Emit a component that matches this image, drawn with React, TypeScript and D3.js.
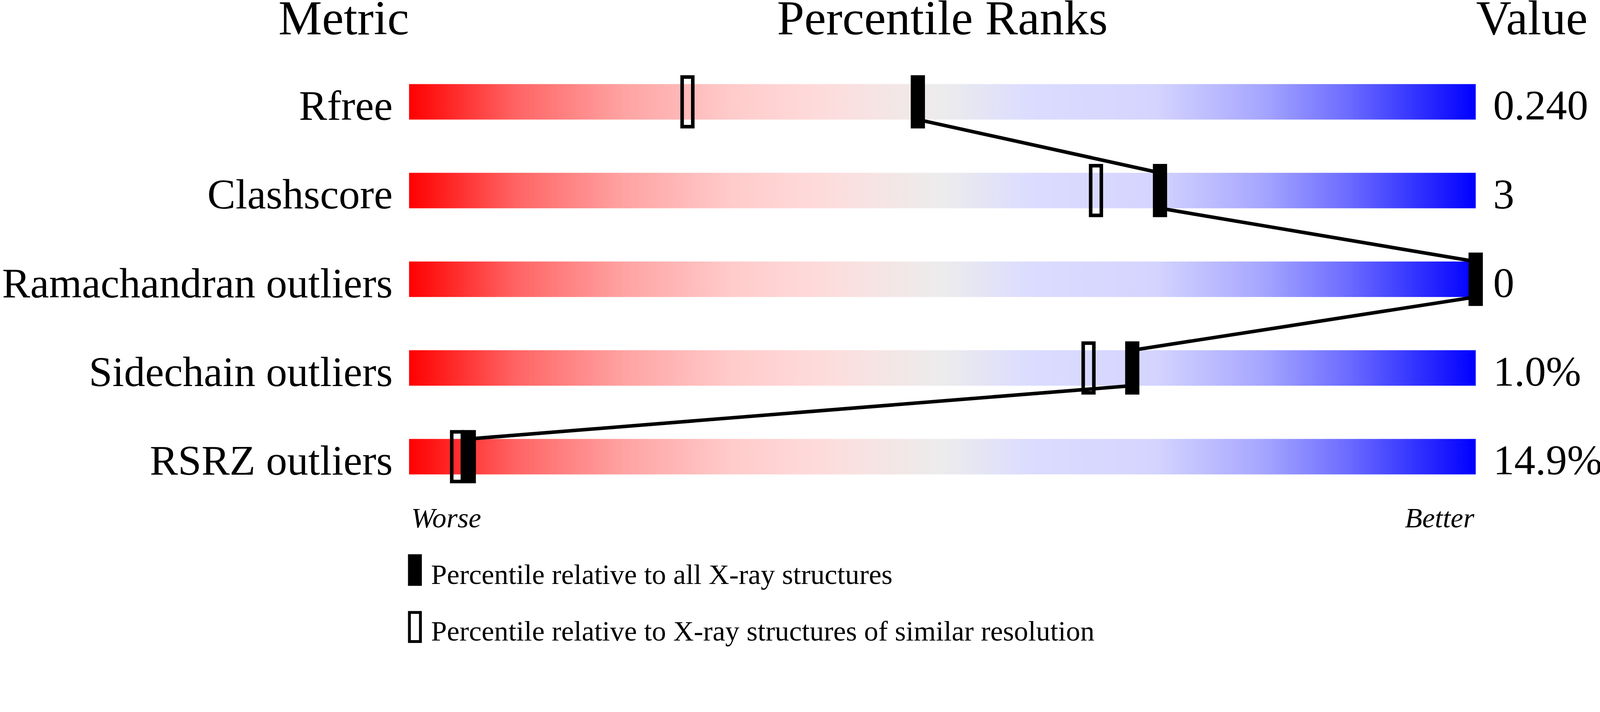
import React, { useRef, useEffect, useState } from "react";
import * as d3 from "d3";

// metric rows, top to bottom
const metrics = [
  "Rfree",
  "Clashscore",
  "Ramachandran outliers",
  "Sidechain outliers",
  "RSRZ outliers",
];
const metricValues = ["0.240", "3", "0", "1.0%", "14.9%"];
// percentile relative to all X-ray structures
const pctAll = [47.7, 70.4, 100, 67.8, 5.6];
// percentile relative to structures of similar resolution
const pctSimilar = [26.1, 64.4, 100, 63.7, 4.5];

const gradientStops: [number, string][] = [
  [0, "#ff0000"],
  [0.1, "#ff6464"],
  [0.2, "#ffa2a2"],
  [0.3, "#ffcaca"],
  [0.38, "#ffdada"],
  [0.44, "#f6e4e4"],
  [0.5, "#ececec"],
  [0.58, "#dcdcff"],
  [0.7, "#d4d4ff"],
  [0.8, "#a6a6ff"],
  [0.88, "#6c6cff"],
  [1, "#0000ff"],
];

const legendLabels = [
  "Percentile relative to all X-ray structures",
  "Percentile relative to X-ray structures of similar resolution",
];

const W = 4506;
const H = 1824;
const FONT = "'Liberation Serif', 'Times New Roman', Times, serif";

export default function App() {
  const svgRef = useRef<SVGSVGElement>(null);
  const [size, setSize] = useState({ w: window.innerWidth, h: window.innerHeight });

  useEffect(() => {
    // the drawing fills the viewport; the viewBox keeps the 4506x1824 layout
    document.body.style.margin = "0";
    document.body.style.overflow = "hidden";
    const onResize = () => setSize({ w: window.innerWidth, h: window.innerHeight });
    window.addEventListener("resize", onResize);
    return () => window.removeEventListener("resize", onResize);
  }, []);

  useEffect(() => {
    if (!svgRef.current) return;
    const svg = d3.select(svgRef.current);
    svg.selectAll("*").remove();

    svg.append("rect").attr("width", W).attr("height", H).attr("fill", "#fff");

    const x = d3.scaleLinear().domain([0, 100]).range([1152, 4156]);
    const y = d3
      .scaleBand<string>()
      .domain(metrics)
      .range([237, 1337])
      .paddingInner(0.6)
      .paddingOuter(0);
    const bh = y.bandwidth();

    // gradient for the sliders
    const grad = svg
      .append("defs")
      .append("linearGradient")
      .attr("id", "slider")
      .attr("x1", "0%")
      .attr("x2", "100%")
      .attr("y1", "0%")
      .attr("y2", "0%");
    grad
      .selectAll("stop")
      .data(gradientStops)
      .join("stop")
      .attr("offset", (d) => d[0])
      .attr("stop-color", (d) => d[1]);

    // headers
    const header = svg
      .append("g")
      .attr("font-family", FONT)
      .attr("font-size", 138)
      .attr("fill", "#000");
    header.append("text").attr("x", x(0)).attr("y", 97).attr("text-anchor", "end").text("Metric");
    header
      .append("text")
      .attr("x", (x(0) + x(100)) / 2)
      .attr("y", 97)
      .attr("text-anchor", "middle")
      .text("Percentile Ranks");
    header.append("text").attr("x", 4157).attr("y", 97).text("Value");

    // bars
    svg
      .append("g")
      .selectAll("rect")
      .data(metrics)
      .join("rect")
      .attr("x", x(0))
      .attr("y", (d) => y(d)!)
      .attr("width", x(100) - x(0))
      .attr("height", bh)
      .attr("fill", "url(#slider)");

    // row labels and values
    const labels = svg
      .append("g")
      .attr("font-family", FONT)
      .attr("font-size", 119)
      .attr("fill", "#000");
    labels
      .selectAll("text.metric")
      .data(metrics)
      .join("text")
      .attr("class", "metric")
      .attr("x", 1106)
      .attr("y", (d) => y(d)! + 101)
      .attr("text-anchor", "end")
      .text((d) => d);
    labels
      .selectAll("text.value")
      .data(metricValues)
      .join("text")
      .attr("class", "value")
      .attr("x", 4205)
      .attr("y", (_, i) => y(metrics[i])! + 100)
      .text((d) => d);

    // connecting line: bottom of one row to top of next
    const pts: [number, number][] = [];
    metrics.forEach((m, i) => {
      pts.push([x(pctAll[i]), y(m)!]);
      pts.push([x(pctAll[i]), y(m)! + bh]);
    });
    svg
      .append("path")
      .attr("d", d3.line()(pts.slice(1, -1)) || "")
      .attr("fill", "none")
      .attr("stroke", "#000")
      .attr("stroke-width", 10)
      .attr("stroke-linejoin", "round");

    // similar-resolution markers (hollow)
    svg
      .append("g")
      .selectAll("rect")
      .data(pctSimilar)
      .join("rect")
      .attr("x", (d) => x(d) - 15)
      .attr("y", (_, i) => y(metrics[i])! - 20)
      .attr("width", 30)
      .attr("height", bh + 40)
      .attr("fill", "none")
      .attr("stroke", "#000")
      .attr("stroke-width", 10);

    // all-structures markers (filled)
    svg
      .append("g")
      .selectAll("rect")
      .data(pctAll)
      .join("rect")
      .attr("x", (d) => x(d) - 20)
      .attr("y", (_, i) => y(metrics[i])! - 25)
      .attr("width", 40)
      .attr("height", bh + 50)
      .attr("fill", "#000");

    // worse / better
    const ends = svg
      .append("g")
      .attr("font-family", FONT)
      .attr("font-size", 80)
      .attr("font-style", "italic");
    ends.append("text").attr("x", 1158).attr("y", 1486).text("Worse");
    ends.append("text").attr("x", 4152).attr("y", 1486).attr("text-anchor", "end").text("Better");

    // legend
    const legend = svg
      .append("g")
      .attr("font-family", FONT)
      .attr("font-size", 80);
    legend
      .append("rect")
      .attr("x", 1149)
      .attr("y", 1562)
      .attr("width", 39)
      .attr("height", 89)
      .attr("fill", "#000");
    legend
      .append("rect")
      .attr("x", 1153)
      .attr("y", 1726)
      .attr("width", 31)
      .attr("height", 82)
      .attr("fill", "none")
      .attr("stroke", "#000")
      .attr("stroke-width", 8);
    legend
      .selectAll("text")
      .data(legendLabels)
      .join("text")
      .attr("x", 1214)
      .attr("y", (_, i) => (i === 0 ? 1646 : 1805))
      .text((d) => d);
  }, []);

  return (
    <svg
      ref={svgRef}
      width={size.w}
      height={size.h}
      viewBox={`0 0 ${W} ${H}`}
      preserveAspectRatio="xMinYMin meet"
      style={{ position: "absolute", left: 0, top: 0, display: "block" }}
    ></svg>
  );
}
